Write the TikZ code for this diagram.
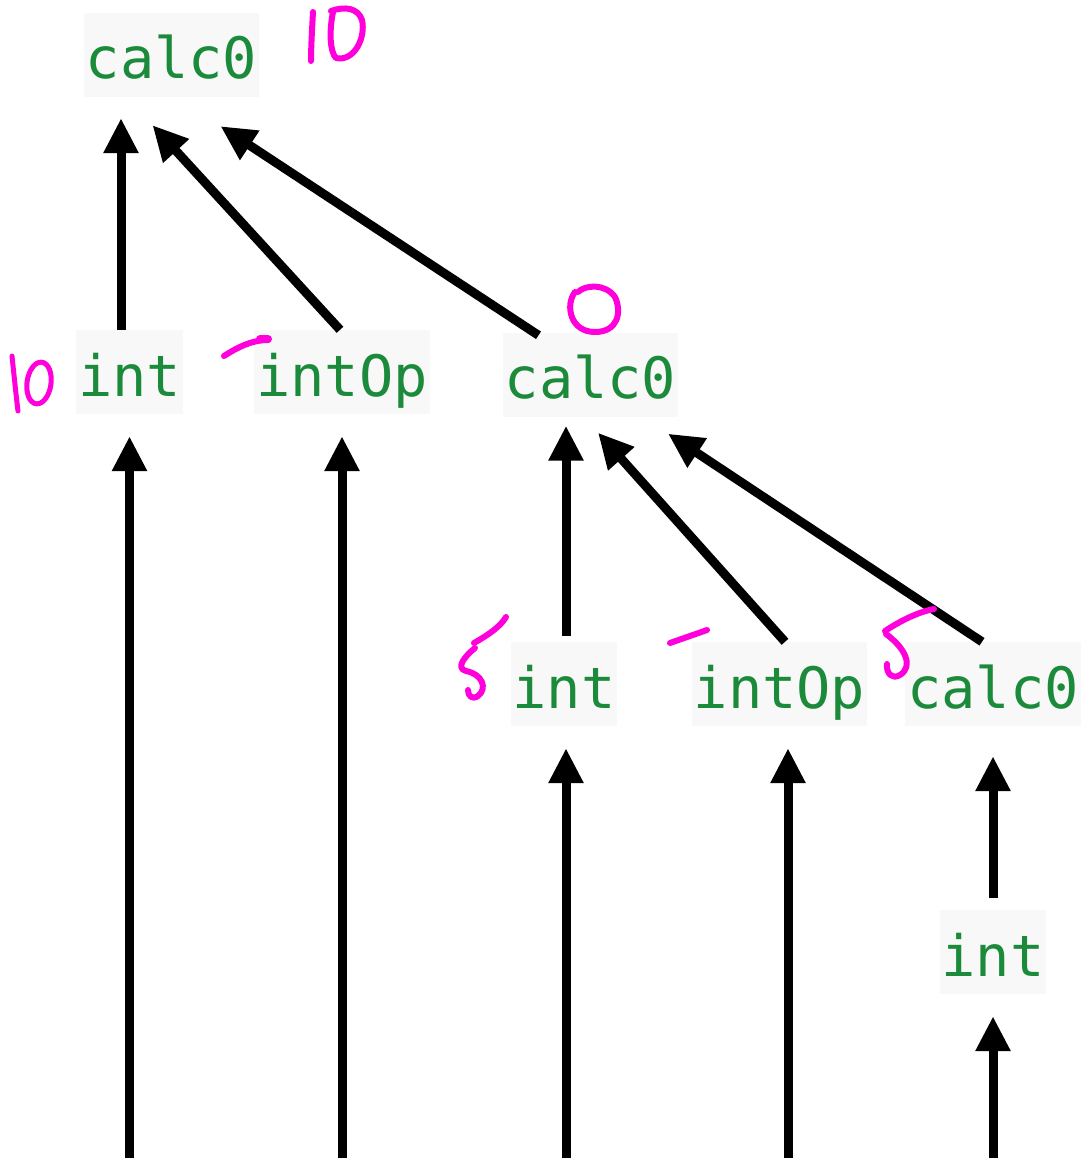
\documentclass[tikz,border=0pt]{standalone}
\usepackage{fontspec}
\newfontfamily\codefont{DejaVu Sans Mono}
\usetikzlibrary{arrows.meta}
\definecolor{codegreen}{HTML}{1B8A3A}
\definecolor{boxbg}{HTML}{F8F8F8}
\definecolor{ink}{HTML}{FF00DD}
\tikzset{
  term/.style={fill=boxbg, text=codegreen, font=\codefont\fontsize{57}{60}\selectfont,
    inner xsep=2pt, inner ysep=0pt, text height=66pt, text depth=18pt},
  edge/.style={line width=9pt, -{Triangle[length=35pt,width=33pt]}},
  hand/.style={draw=ink, line width=6pt, line cap=round, line join=round},
}
\begin{document}
\begin{tikzpicture}[x=1pt,y=-1pt]
\useasboundingbox (0,0) rectangle (1081,1158);

% nodes
\node[term] (top)    at (171.5,55)  {calc0};
\node[term] (int1)   at (129.5,372) {int};
\node[term] (intOp1) at (342,372)   {intOp};
\node[term] (calcB)  at (590.5,374.5) {calc0};
\node[term] (int2)   at (564,684)   {int};
\node[term] (intOp2) at (779.5,684) {intOp};
\node[term] (calcC)  at (993,684)   {calc0};
\node[term] (int3)   at (993,952)   {int};

% free ends at the bottom
\coordinate (b1) at (129.5,1158);
\coordinate (b2) at (342,1158);
\coordinate (b3) at (566,1158);
\coordinate (b4) at (788,1158);
\coordinate (b5) at (993,1158);

% connectors
\draw[edge] ([xshift=-8.5pt]int1.north) -- ([xshift=-50.5pt,yshift=-21pt]top.south);
\draw[edge] ([xshift=-2pt]intOp1.north) -- ([xshift=-19pt,yshift=-28pt]top.south);
\draw[edge] ([xshift=-52pt,yshift=-3pt]calcB.north) -- ([xshift=49pt,yshift=-29pt]top.south);

\draw[edge] ([xshift=2pt,yshift=6pt]int2.north) -- ([xshift=-24.5pt,yshift=-9pt]calcB.south);
\draw[edge] ([xshift=5.5pt]intOp2.north) -- ([xshift=7.5pt,yshift=-16pt]calcB.south);
\draw[edge] ([xshift=-11pt]calcC.north) -- ([xshift=77.5pt,yshift=-17pt]calcB.south);

\draw[edge] (b1) -- ([yshift=-22pt]int1.south);
\draw[edge] (b2) -- ([yshift=-22pt]intOp1.south);
\draw[edge] (b3) -- ([xshift=2pt,yshift=-22pt]int2.south);
\draw[edge] (b4) -- ([xshift=8.5pt,yshift=-22pt]intOp2.south);
\draw[edge] ([yshift=12pt]int3.north) -- ([yshift=-30pt]calcC.south);
\draw[edge] (b5) -- ([yshift=-22pt]int3.south);

% handwritten annotations
% "10" top
\draw[hand] (313,12) .. controls (312,30) and (311,48) .. (311,61);
\draw[hand] (333,12) .. controls (329,32) and (330,52) .. (336,58)
  .. controls (354,62) and (366,38) .. (362,20) .. controls (358,8) and (345,6) .. (331,11);
% "10" left of int
\draw[hand, line width=5pt] (12,356) .. controls (14,375) and (16,395) .. (18,411);
\draw[hand, line width=5pt, rotate around={-8:(39,383)}] (39,383) ellipse [x radius=12, y radius=21];
% "-" before intOp
\draw[hand] (224,356) .. controls (238,347) and (252,340) .. (268,340);
\draw[hand, line width=8pt] (260,339) -- (268,339);
% "0" above calc0
\draw[hand] (575,292) .. controls (565,305) and (570,332) .. (595,332)
  .. controls (618,332) and (622,312) .. (615,297) .. controls (605,283) and (585,285) .. (578,292);
% "5" left of int (row 3)
\draw[hand] (474,643) .. controls (488,635) and (500,627) .. (506,617);
\draw[hand] (475,648) .. controls (465,656) and (455,668) .. (466,671)
  .. controls (482,674) and (488,688) .. (478,696) .. controls (472,700) and (468,696) .. (468,690);
% "-" before intOp (row 3)
\draw[hand] (670,643) .. controls (684,638) and (696,634) .. (707,630);
% "5" before calc0 (row 3)
\draw[hand] (885,631) .. controls (900,621) and (918,612) .. (934,609);
\draw[hand] (886,634) .. controls (905,648) and (914,666) .. (900,675)
  .. controls (892,680) and (886,673) .. (887,664);
\end{tikzpicture}
\end{document}
